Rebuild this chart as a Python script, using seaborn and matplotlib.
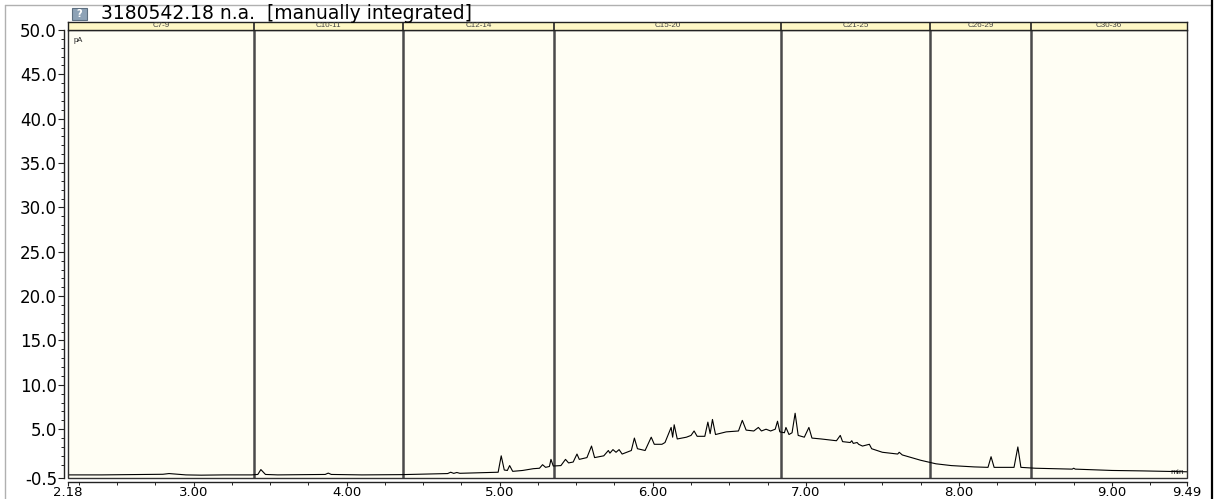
import numpy as np
import pandas as pd
import matplotlib
matplotlib.use("Agg")
import matplotlib.pyplot as plt
import seaborn as sns
from matplotlib.patches import Rectangle
from matplotlib.lines import Line2D
from matplotlib.ticker import FixedLocator

# ---------------- data ----------------
title_text = "3180542.18 n.a.  [manually integrated]"
section_names = ["C7-9", "C10-11", "C12-14", "C15-20", "C21-25", "C26-29", "C30-36"]
section_bounds = [2.18, 3.395, 4.368, 5.354, 6.837, 7.810, 8.470, 9.49]

y_major = [-0.5, 5.0, 10.0, 15.0, 20.0, 25.0, 30.0, 35.0, 40.0, 45.0, 50.0]
y_labels = ["-0.5", "5.0", "10.0", "15.0", "20.0", "25.0", "30.0", "35.0", "40.0", "45.0", "50.0"]
x_major = [2.18, 3.0, 4.0, 5.0, 6.0, 7.0, 8.0, 9.0, 9.49]
x_labels = ["2.18", "3.00", "4.00", "5.00", "6.00", "7.00", "8.00", "9.00", "9.49"]

time_min = [
    2.18, 2.40, 2.60, 2.80, 2.84, 2.88, 2.95, 3.05, 3.20, 3.38,
    3.42, 3.44, 3.47, 3.55, 3.70, 3.86, 3.88, 3.90, 4.10, 4.36,
    4.55, 4.66, 4.68, 4.70, 4.72, 4.74, 4.90, 4.99, 5.01, 5.03,
    5.05, 5.065, 5.085, 5.15, 5.22, 5.26, 5.28, 5.30, 5.325, 5.335,
    5.35, 5.40, 5.43, 5.45, 5.48, 5.505, 5.52, 5.57, 5.60, 5.62,
    5.68, 5.71, 5.72, 5.74, 5.76, 5.78, 5.80, 5.86, 5.88, 5.90,
    5.95, 5.99, 6.01, 6.06, 6.08, 6.12, 6.13, 6.14, 6.16, 6.22,
    6.25, 6.27, 6.29, 6.34, 6.36, 6.375, 6.39, 6.41, 6.48, 6.56,
    6.585, 6.61, 6.66, 6.69, 6.71, 6.74, 6.77, 6.80, 6.815, 6.83,
    6.86, 6.87, 6.89, 6.91, 6.93, 6.95, 6.99, 7.02, 7.04, 7.10,
    7.20, 7.225, 7.24, 7.29, 7.30, 7.31, 7.335, 7.345, 7.37, 7.415,
    7.43, 7.50, 7.60, 7.61, 7.63, 7.75, 7.85, 7.95, 8.10, 8.19,
    8.21, 8.23, 8.36, 8.385, 8.405, 8.50, 8.74, 8.75, 8.76, 9.00,
    9.20, 9.49,
]
signal_pA = [
    -0.15, -0.15, -0.12, -0.08, 0.00, -0.05, -0.15, -0.18, -0.15, -0.15,
    -0.10, 0.45, -0.10, -0.15, -0.12, -0.10, 0.05, -0.10, -0.15, -0.12,
    -0.05, 0.00, 0.15, 0.02, 0.12, 0.03, 0.10, 0.15, 2.00, 0.40,
    0.35, 0.90, 0.25, 0.35, 0.55, 0.60, 1.00, 0.70, 0.80, 1.60,
    0.85, 0.90, 1.60, 1.20, 1.30, 2.20, 1.60, 1.80, 3.10, 1.80,
    2.00, 2.60, 2.30, 2.70, 2.40, 2.70, 2.20, 2.60, 4.00, 2.80,
    2.60, 4.10, 3.30, 3.30, 3.50, 5.20, 4.10, 5.50, 3.90, 4.10,
    4.30, 4.80, 4.20, 4.20, 5.80, 4.50, 6.10, 4.40, 4.70, 4.80,
    6.00, 4.90, 4.80, 5.20, 4.80, 5.00, 4.80, 5.00, 5.90, 4.70,
    4.60, 5.20, 4.40, 4.60, 6.80, 4.30, 4.10, 5.20, 4.00, 3.90,
    3.70, 4.30, 3.60, 3.50, 3.70, 3.40, 3.50, 3.30, 3.10, 3.30,
    2.80, 2.40, 2.20, 2.40, 2.10, 1.50, 1.10, 0.90, 0.75, 0.70,
    1.90, 0.70, 0.70, 3.00, 0.70, 0.60, 0.50, 0.60, 0.50, 0.35,
    0.30, 0.20,
]

# ---------------- figure ----------------
sns.set_theme(style="white")
plt.rcParams["font.family"] = ["DejaVu Sans"]

W, H = 1216, 499
fig = plt.figure(figsize=(W / 100, H / 100), dpi=100, facecolor="white")

x0, x1 = 68, 1187          # data area in pixels
y_top, y_bot = 30, 478
ax = fig.add_axes([x0 / W, (H - y_bot) / H, (x1 - x0) / W, (y_bot - y_top) / H])
ax.set_facecolor("#FFFEF4")

df = pd.DataFrame({"time": time_min, "signal": signal_pA})
sns.lineplot(data=df, x="time", y="signal", ax=ax, color="black", lw=0.8,
             sort=False, estimator=None, zorder=5)

ax.set_xlim(2.18, 9.49)
ax.set_ylim(-0.5, 50.0)
ax.set_xlabel("")
ax.set_ylabel("")

# section separators
for b in section_bounds[1:-1]:
    ax.axvline(b, color="#4a4a4a", lw=1.8, zorder=3)

# axis lines offset from the plot frame
for s in ["top", "right"]:
    ax.spines[s].set_visible(False)
for s in ["left", "bottom"]:
    ax.spines[s].set_position(("outward", 3))
    ax.spines[s].set_color("#222222")
    ax.spines[s].set_linewidth(1.0)
ax.add_patch(Rectangle((0, 0), 1, 1, transform=ax.transAxes, fill=False,
                       edgecolor="#333333", lw=1.0, clip_on=False, zorder=6))

ax.yaxis.set_major_locator(FixedLocator(y_major))
ax.set_yticklabels(y_labels)
ax.yaxis.set_minor_locator(FixedLocator([v for v in range(0, 50) if v % 5 != 0]))
ax.xaxis.set_major_locator(FixedLocator(x_major))
ax.set_xticklabels(x_labels)
ax.xaxis.set_minor_locator(FixedLocator([2.25 + 0.25 * i for i in range(29) if (2.25 + 0.25 * i) % 1 != 0]))
ax.tick_params(axis="y", which="major", direction="out", length=4, width=0.8,
               color="#222222", labelcolor="black", left=True, labelsize=12, pad=1)
ax.tick_params(axis="x", which="major", direction="out", length=3, width=0.8,
               color="#222222", labelcolor="black", bottom=True, labelsize=9.5, pad=0)
ax.tick_params(axis="both", which="minor", direction="out", length=2.2, width=0.7,
               color="#222222", left=True, bottom=True)
ax.grid(False)

# small in-plot labels
ax.text(0.005, 0.985, "pA", transform=ax.transAxes, fontsize=5.5, ha="left", va="top",
        family="Liberation Sans")
ax.text(0.997, 0.005, "min", transform=ax.transAxes, fontsize=6, ha="right", va="bottom",
        family="Liberation Sans")

# header band with section names
hax = fig.add_axes([x0 / W, (H - y_top) / H, (x1 - x0) / W, 8.5 / H])
hax.set_facecolor("#FFF8C6")
hax.set_xlim(2.18, 9.49)
hax.set_ylim(0, 1)
hax.set_xticks([])
hax.set_yticks([])
for s in hax.spines.values():
    s.set_color("#222222")
    s.set_linewidth(1.0)
    s.set_visible(True)
for b in section_bounds[1:-1]:
    hax.axvline(b, color="#222222", lw=1.2)
for name, a, b in zip(section_names, section_bounds[:-1], section_bounds[1:]):
    hax.text((a + b) / 2, 0.5, name, ha="center", va="center", fontsize=5.8,
             color="#444444", family="Liberation Sans")

# title with icon
fig.add_artist(Rectangle((72 / W, (H - 20) / H), 15 / W, 12 / H, transform=fig.transFigure,
                         facecolor="#8DA2B6", edgecolor="#5d6f80", lw=0.8))
fig.text(79.5 / W, (H - 14) / H, "?", ha="center", va="center", fontsize=7,
         color="white", fontweight="bold")
fig.text(101 / W, (H - 19) / H, title_text, ha="left", va="baseline", fontsize=13.5,
         color="black")

# outer frame lines
fig.add_artist(Line2D([5 / W, 1211 / W], [(H - 5) / H, (H - 5) / H], transform=fig.transFigure,
                      color="#b0b0b0", lw=1.0))
fig.add_artist(Line2D([5 / W, 5 / W], [0, (H - 5) / H], transform=fig.transFigure,
                      color="#b0b0b0", lw=1.0))
fig.add_artist(Line2D([1212 / W, 1212 / W], [0, 1], transform=fig.transFigure,
                      color="black", lw=1.6))

fig.savefig("out.png", dpi=100, facecolor="white")
